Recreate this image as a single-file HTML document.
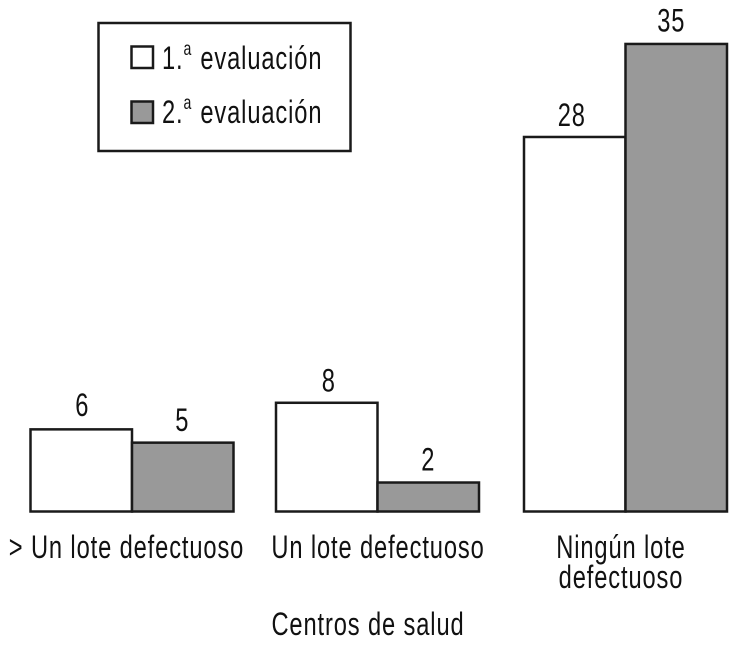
<!DOCTYPE html>
<html lang="es">
<head>
<meta charset="utf-8">
<title>Centros de salud</title>
<style>
html,body{margin:0;padding:0;background:#fff;width:730px;height:647px;overflow:hidden}
svg{display:block}
text{font-family:"Liberation Sans",sans-serif;font-size:32px;letter-spacing:1.2px;fill:#111}
</style>
</head>
<body>
<svg id="chart" xmlns="http://www.w3.org/2000/svg" width="730" height="647" viewBox="0 0 730 647">
  <g id="marks"></g>
  <g id="labels"></g>
  <text transform="translate(368,635) scale(.74,1)" text-anchor="middle">Centros de salud</text>
  <g>
    <rect x="98.5" y="23" width="252" height="128" fill="#fff" stroke="#1a1a1a" stroke-width="2.5"/>
    <g>
      <rect x="131.5" y="46.5" width="21.5" height="21.5" fill="#fff" stroke="#1a1a1a" stroke-width="2.5"/>
      <text transform="translate(162,69) scale(.74,1)">1.<tspan font-size="19" dy="-14" dx="0">a</tspan><tspan dy="14" dx="11">evaluación</tspan></text>
    </g>
    <g>
      <rect x="131.5" y="101.5" width="21.5" height="21.5" fill="#999" stroke="#1a1a1a" stroke-width="2.5"/>
      <text transform="translate(162,123) scale(.74,1)">2.<tspan font-size="19" dy="-14" dx="0">a</tspan><tspan dy="14" dx="11">evaluación</tspan></text>
    </g>
  </g>
</svg>
<script>
const categories = [["> Un lote defectuoso"], ["Un lote defectuoso"], ["Ningún lote", "defectuoso"]];
const firstEvaluation = [6, 8, 28];
const secondEvaluation = [5, 2, 35];

const NS = "http://www.w3.org/2000/svg";
const marks = document.getElementById("marks");
const labels = document.getElementById("labels");
const baseY = 511.5;
const barWidth = 101.5;

function yScale(v) { return 509.1 - 13.29 * v; }
function groupX(i) { return [30.5, 276, 524][i]; }
function labelCenter(i) { return groupX(i) + barWidth + [-5.5, 0.5, -4.5][i]; }

function addBar(x, value, fill, name) {
  const top = yScale(value);
  const r = document.createElementNS(NS, "rect");
  r.setAttribute("x", x);
  r.setAttribute("y", top);
  r.setAttribute("width", barWidth);
  r.setAttribute("height", Math.max(0, baseY - top));
  r.setAttribute("fill", fill);
  r.setAttribute("stroke", "#1a1a1a");
  r.setAttribute("stroke-width", "2.5");
  
  
  marks.appendChild(r);
}

function addValue(x, value, dy, name) {
  const t = document.createElementNS(NS, "text");
  t.setAttribute("transform", "translate(" + (x + barWidth / 2) + "," + (yScale(value) - 12.5 + dy) + ") scale(.74,1)");
  t.setAttribute("text-anchor", "middle");
  
  
  t.textContent = value;
  marks.appendChild(t);
}

categories.forEach(function (lines, i) {
  const x = groupX(i);
  addBar(x, firstEvaluation[i], "#fff", "bar-first-evaluation");
  addBar(x + barWidth, secondEvaluation[i], "#999", "bar-second-evaluation");
  addValue(x + [1, 2, -3][i], firstEvaluation[i], [-1, 1.2, 1.5][i], "value-label-first-evaluation");
  addValue(x + barWidth + [-0.5, 0, -5][i], secondEvaluation[i], [1, 0.7, 0][i], "value-label-second-evaluation");
  lines.forEach(function (line, k) {
    const t = document.createElementNS(NS, "text");
    t.setAttribute("transform", "translate(" + labelCenter(i) + "," + (558 + k * 30) + ") scale(.74,1)");
    t.setAttribute("text-anchor", "middle");
    
    
    t.textContent = line;
    labels.appendChild(t);
  });
});
</script>
</body>
</html>
